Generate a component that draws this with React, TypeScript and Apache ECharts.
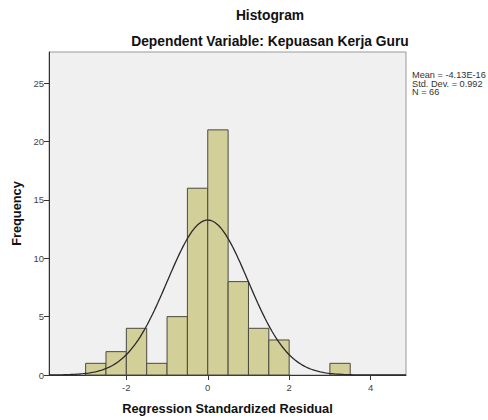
import React, { useEffect, useRef } from "react";
import * as echarts from "echarts";

const binLow = [-3, -2.5, -2, -1.5, -1, -0.5, 0, 0.5, 1, 1.5, 3];
const binWidth = 0.5;
const counts = [1, 2, 4, 1, 5, 16, 21, 8, 4, 3, 1];
const xTicks = [-2, 0, 2, 4];
const yTicks = [0, 5, 10, 15, 20, 25];
const statMean = -4.13e-16;
const statSd = 0.992;
const statN = 66;
const statLines = ["Mean = -4.13E-16", "Std. Dev. = 0.992", "N = 66"];
const xMin = -3.9;
const xMax = 4.87;
const yMax = 27.67;

const FONT = '"Liberation Sans", Arial, sans-serif';

export default function App() {
  const ref = useRef<HTMLDivElement>(null);
  useEffect(() => {
    document.body.style.margin = "0";
    const chart = echarts.init(ref.current!, null, { renderer: "svg" });
    const barData = binLow.map((lo, i) => [lo, lo + binWidth, counts[i]]);
    const curve: number[][] = [];
    const steps = 200;
    for (let i = 0; i <= steps; i++) {
      const x = xMin + ((xMax - xMin) * i) / steps;
      const z = (x - statMean) / statSd;
      const y = (statN * binWidth * Math.exp(-0.5 * z * z)) / (statSd * Math.sqrt(2 * Math.PI));
      curve.push([x, y]);
    }
    chart.setOption({
      animation: false,
      textStyle: { fontFamily: FONT },
      grid: {
        left: 49,
        top: 52,
        right: 82,
        bottom: 41,
        show: true,
        backgroundColor: "#f0f0f0",
        borderColor: "#999",
        borderWidth: 1,
      },
      xAxis: {
        type: "value",
        min: xMin,
        max: xMax,
        splitLine: { show: false },
        axisLine: { show: true, onZero: false, lineStyle: { color: "#333", width: 1 } },
        axisTick: { show: true, customValues: xTicks, length: 5, lineStyle: { color: "#333" } },
        axisLabel: { customValues: xTicks, color: "#444", fontSize: 9.5, margin: 7, fontFamily: FONT },
        name: "Regression Standardized Residual",
        nameLocation: "middle",
        nameGap: 27,
        nameTextStyle: { fontWeight: "bold", fontSize: 12.8, color: "#111", fontFamily: FONT },
      },
      yAxis: {
        type: "value",
        min: 0,
        max: yMax,
        splitLine: { show: false },
        axisLine: { show: true, onZero: false, lineStyle: { color: "#333", width: 1 } },
        axisTick: { show: true, customValues: yTicks, length: 5, lineStyle: { color: "#333" } },
        axisLabel: { customValues: yTicks, color: "#444", fontSize: 9.5, margin: 5, fontFamily: FONT },
        name: "Frequency",
        nameLocation: "middle",
        nameGap: 25,
        nameTextStyle: { fontWeight: "bold", fontSize: 12.8, color: "#111", fontFamily: FONT },
      },
      series: [
        {
          type: "custom",
          data: barData,
          encode: { x: [0, 1], y: 2 },
          renderItem: (params: any, api: any) => {
            const x0 = api.value(0);
            const x1 = api.value(1);
            const v = api.value(2);
            const p0 = api.coord([x0, v]);
            const p1 = api.coord([x1, 0]);
            return {
              type: "rect",
              shape: { x: p0[0], y: p0[1], width: p1[0] - p0[0], height: p1[1] - p0[1] },
              style: { fill: "#d3cf98", stroke: "#4a4a40", lineWidth: 1 },
            };
          },
        },
        {
          type: "line",
          data: curve,
          showSymbol: false,
          smooth: false,
          lineStyle: { color: "#2a2a2a", width: 1.3 },
          z: 5,
        },
      ],
      graphic: [
        {
          type: "text",
          x: 270,
          y: 15,
          style: {
            text: "Histogram",
            font: `bold 13.8px ${FONT}`,
            fill: "#111",
            textAlign: "center",
            textVerticalAlign: "middle",
          },
        },
        {
          type: "text",
          x: 270,
          y: 41,
          style: {
            text: "Dependent Variable: Kepuasan Kerja Guru",
            font: `bold 13.8px ${FONT}`,
            fill: "#111",
            textAlign: "center",
            textVerticalAlign: "middle",
          },
        },
        ...statLines.map((t, i) => ({
          type: "text",
          x: 412,
          y: 75 + i * 8.5,
          style: {
            text: t,
            font: `9.2px ${FONT}`,
            fill: "#333",
            textAlign: "left",
            textVerticalAlign: "middle",
          },
        })),
      ],
    });
    return () => chart.dispose();
  }, []);
  return <div ref={ref} style={{ width: 488, height: 420 }} />;
}
